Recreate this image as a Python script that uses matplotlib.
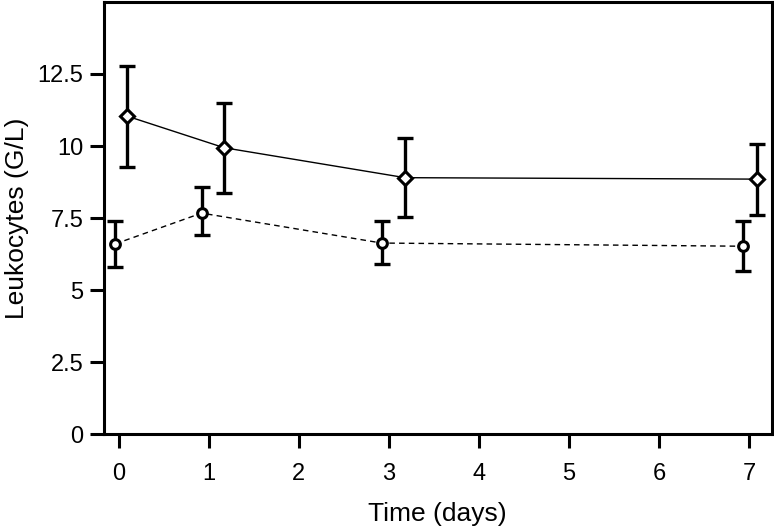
import matplotlib
matplotlib.use("Agg")
import matplotlib.pyplot as plt

# values (days slightly staggered as in the original)
days_a = [0.09, 1.17, 3.18, 7.09]
leuko_a = [11.04, 9.94, 8.90, 8.85]
err_a_lo = [9.27, 8.36, 7.52, 7.59]
err_a_hi = [12.79, 11.50, 10.28, 10.08]

days_b = [-0.04, 0.92, 2.92, 6.93]
leuko_b = [6.60, 7.67, 6.63, 6.52]
err_b_lo = [5.80, 6.90, 5.89, 5.67]
err_b_hi = [7.38, 8.58, 7.40, 7.39]

x_ticks = [0, 1, 2, 3, 4, 5, 6, 7]
y_ticks = [0, 2.5, 5, 7.5, 10, 12.5]
y_ticklabels = ["0", "2.5", "5", "7.5", "10", "12.5"]

plt.rcParams['font.family'] = ['Liberation Sans', 'DejaVu Sans']

fig = plt.figure(figsize=(7.74, 5.26), dpi=100)
ax = fig.add_axes([0.1344, 0.1749, 0.8624, 0.8213])


def draw_series(x, y, lo, hi, marker, ms, ls):
    yerr = [[v - l for v, l in zip(y, lo)], [h - v for v, h in zip(y, hi)]]
    ax.plot(x, y, color='black', lw=1.0, ls=ls, zorder=2, dashes=(4, 3) if ls == '--' else (None, None))
    ax.errorbar(x, y, yerr=yerr, fmt='none', ecolor='black', elinewidth=2.4,
                capsize=5.5, capthick=2.4, zorder=3)
    ax.plot(x, y, ls='none', marker=marker, ms=ms, mfc='white', mec='black',
            mew=2.2, zorder=4)


draw_series(days_a, leuko_a, err_a_lo, err_a_hi, 'D', 7.5, '-')
draw_series(days_b, leuko_b, err_b_lo, err_b_hi, 'o', 7, '--')

ax.set_xlim(-0.164, 7.25)
ax.set_ylim(0, 15)
ax.set_xticks(x_ticks)
ax.set_yticks(y_ticks)
ax.set_yticklabels(y_ticklabels)
ax.tick_params(axis='both', direction='out', length=10, width=2.2, labelsize=17)
ax.tick_params(axis='y', pad=5)
ax.tick_params(axis='x', pad=11)
for s in ax.spines.values():
    s.set_linewidth(2.2)

ax.set_xlabel('Time (days)', fontsize=19, labelpad=12)
ax.set_ylabel('Leukocytes (G/L)', fontsize=19, labelpad=6)

fig.savefig('out.png', dpi=100)
